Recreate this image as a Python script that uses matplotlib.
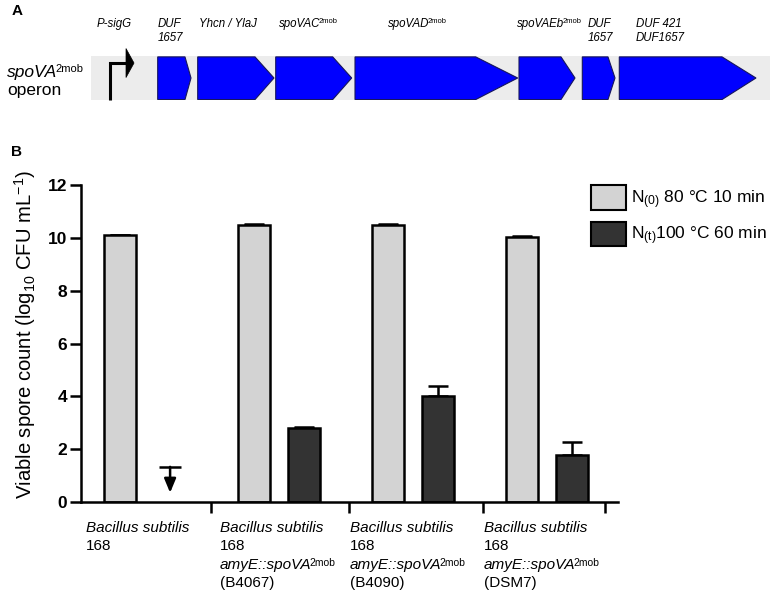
import numpy as np
import matplotlib
matplotlib.use("Agg")
import matplotlib.pyplot as plt
from matplotlib.patches import Polygon, Patch

plt.rcParams['font.family'] = ['Liberation Sans', 'DejaVu Sans']
plt.rcParams['mathtext.fontset'] = 'custom'
plt.rcParams['mathtext.rm'] = 'Liberation Sans'
plt.rcParams['mathtext.it'] = 'Liberation Sans:italic'
plt.rcParams['mathtext.bf'] = 'Liberation Sans:bold'

# ---------------- data ----------------
# Panel A: operon gene map (positions along the operon, arbitrary units)
gene_labels = ["DUF\n1657", "Yhcn / YlaJ", "spoVAC", "spoVAD",
               "spoVAEb", "DUF\n1657", "DUF 421\nDUF1657"]
gene_label_sup = ["", "", "2mob", "2mob", "2mob", "", ""]
gene_start = [66.7, 106.7, 184.7, 264.0, 428.0, 491.3, 528.3]
gene_end = [100.0, 183.0, 260.7, 426.7, 484.0, 524.0, 665.0]
gene_head = [6, 19, 19, 42, 14, 7, 34]
gene_label_x = [67, 108, 188, 297, 426, 497, 545]
operon_length = 679
promoter_label = "P-sigG"
promoter_pos = 19
promoter_label_x = 6

# Panel B: spore counts
strains = [
    ["Bacillus subtilis", "168"],
    ["Bacillus subtilis", "168", "amyE::spoVA", "(B4067)"],
    ["Bacillus subtilis", "168", "amyE::spoVA", "(B4090)"],
    ["Bacillus subtilis", "168", "amyE::spoVA", "(DSM7)"],
]
n0_values = [10.10, 10.48, 10.49, 10.05]
n0_err = [0.0, 0.06, 0.02, 0.03]
nt_values = [np.nan, 2.81, 4.01, 1.77]
nt_err = [np.nan, 0.04, 0.39, 0.51]
detection_limit = [1.33, np.nan, np.nan, np.nan]
legend_labels = [r"N$_{\mathrm{(0)}}$ 80 °C 10 min", r"N$_{\mathrm{(t)}}$100 °C 60 min"]
ylabel = r"Viable spore count (log$_{10}$ CFU mL$^{-1}$)"

light_color = "#d3d3d3"
dark_color = "#333333"

# ---------------- figure ----------------
W, H = 773, 596
fig = plt.figure(figsize=(W / 100, H / 100), dpi=100)


def sup_after(axis, base, sup, size, style="normal", dx=-1.5):
    axis.annotate(sup, xy=(1.0, 1.0), xycoords=base, xytext=(dx, 0),
                  textcoords="offset points", ha="left", va="top",
                  fontsize=size, style=style, annotation_clip=False)


# ---------- Panel A ----------
axA = fig.add_axes([91 / W, 1 - 100 / H, 679 / W, 44 / H])
axA.set_xlim(0, operon_length)
axA.set_ylim(0, 1)
axA.set_facecolor("#ececec")
for s in axA.spines.values():
    s.set_visible(False)
axA.set_xticks([])
axA.set_yticks([])

for st, en, hd in zip(gene_start, gene_end, gene_head):
    poly = Polygon([(st, 0.01), (en - hd, 0.01), (en, 0.5), (en - hd, 0.98), (st, 0.98)],
                   closed=True, facecolor="#0000ff", edgecolor="#16165c", lw=0.8)
    axA.add_patch(poly)

for lbl, sup, lx in zip(gene_labels, gene_label_sup, gene_label_x):
    t = axA.text(lx, 1.86, lbl, ha="left", va="top", fontsize=8.3, style="italic",
                 linespacing=1.15, clip_on=False)
    if sup:
        sup_after(axA, t, sup, 5.5, dx=-1.0)
axA.text(promoter_label_x, 1.86, promoter_label, ha="left", va="top", fontsize=8.3,
         style="italic", clip_on=False)

# promoter bent arrow
axA.plot([promoter_pos, promoter_pos, promoter_pos + 16], [0, 0.84, 0.84], color="black",
         lw=2.2, solid_capstyle="butt", solid_joinstyle="miter", clip_on=False)
axA.add_patch(Polygon([(promoter_pos + 16, 1.17), (promoter_pos + 24, 0.84),
                       (promoter_pos + 16, 0.51)], closed=True, facecolor="black",
                      edgecolor="black", lw=0.5, clip_on=False))

t_op = fig.text(7 / W, 1 - 72 / H, "spoVA", style="italic", fontsize=12.5,
                ha="left", va="center")
sup_after(axA, t_op, "2mob", 8)
fig.text(7 / W, 1 - 90 / H, "operon", fontsize=12.5, ha="left", va="center")
fig.text(12 / W, 1 - 11 / H, "A", fontsize=11, fontweight="bold", ha="left", va="center")
fig.text(11 / W, 1 - 152 / H, "B", fontsize=11, fontweight="bold", ha="left", va="center")

# ---------- Panel B ----------
ax = fig.add_axes([81 / W, 1 - 502 / H, 537 / W, 317 / H])
x = np.arange(len(n0_values))
off = 0.187
bw = 0.235
lw = 1.8

ax.errorbar(x - off, n0_values, yerr=[np.zeros(len(x)), n0_err], fmt="none",
            ecolor="black", elinewidth=lw, capsize=7, capthick=lw, zorder=1)
ax.errorbar(x + off, nt_values, yerr=[np.zeros(len(x)), nt_err], fmt="none",
            ecolor="black", elinewidth=lw, capsize=7, capthick=lw, zorder=1)
b1 = ax.bar(x - off, n0_values, bw, color=light_color, edgecolor="black", lw=lw, zorder=2)
b2 = ax.bar(x + off, np.nan_to_num(nt_values, nan=0.0), bw, color=dark_color,
            edgecolor="black", lw=lw, zorder=2)
for i, v in enumerate(nt_values):
    if np.isnan(v):
        b2[i].set_visible(False)

# detection-limit arrow
for xi, lim in zip(x, detection_limit):
    if np.isnan(lim):
        continue
    ax.hlines(lim, xi + off - 0.085, xi + off + 0.085, color="black", lw=lw, zorder=3)
    ax.annotate("", xy=(xi + off, 0.35), xytext=(xi + off, lim),
                arrowprops=dict(arrowstyle="-|>,head_length=0.6,head_width=0.25",
                                color="black", lw=lw, shrinkA=0, shrinkB=0,
                                mutation_scale=14), zorder=3)

ax.set_xlim(-0.478, 3.53)
ax.set_ylim(0, 12)
ax.set_yticks(np.arange(0, 13, 2))
ax.set_yticklabels([str(v) for v in range(0, 13, 2)], fontweight="bold", fontsize=12.5)
ax.set_xticks([0.493, 1.522, 2.52, 3.43])
ax.set_xticklabels([])
ax.tick_params(axis="y", length=8, width=lw, pad=2)
ax.tick_params(axis="x", length=8, width=lw)
for s in ["top", "right"]:
    ax.spines[s].set_visible(False)
for s in ["left", "bottom"]:
    ax.spines[s].set_linewidth(lw)

ax.set_ylabel(ylabel, fontsize=14.6)
ax.yaxis.set_label_coords(-0.080, 0.527)

# category labels
label_x = [-0.44, 0.56, 1.53, 2.53]
trans = ax.get_xaxis_transform()
line_h = 18.3 / 317
for lx, lines in zip(label_x, strains):
    for j, ln in enumerate(lines):
        yy = -0.082 - j * line_h
        if j == 0:
            ax.text(lx, yy, ln, transform=trans, style="italic", fontsize=11,
                    ha="left", va="center")
        elif ln.startswith("amyE"):
            t = ax.text(lx, yy, ln, transform=trans, style="italic",
                        fontsize=11, ha="left", va="center")
            sup_after(ax, t, "2mob", 7.5)
        else:
            ax.text(lx, yy, ln, transform=trans, fontsize=11, ha="left", va="center")

handles = [Patch(facecolor=light_color, edgecolor="black", lw=1.5),
           Patch(facecolor=dark_color, edgecolor="black", lw=1.5)]
leg = fig.legend(handles=handles, labels=legend_labels, loc="upper left",
                 bbox_to_anchor=(591 / W, 1 - 185 / H), frameon=False, fontsize=12.5,
                 handlelength=2.0, handleheight=1.8, handletextpad=0.3, labelspacing=0.65,
                 borderpad=0, borderaxespad=0)

fig.savefig("out.png", dpi=100)
